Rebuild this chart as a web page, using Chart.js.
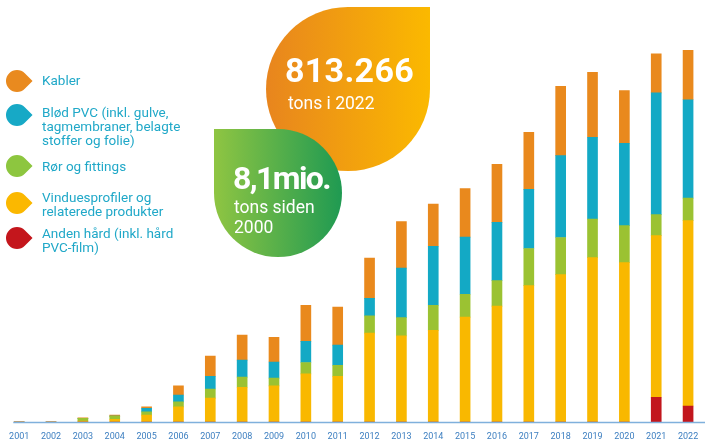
<!DOCTYPE html>
<html><head><meta charset="utf-8">
<script src="https://cdn.jsdelivr.net/npm/chart.js@4"></script>
<style>
html,body{margin:0;padding:0;background:#fff;}
#wrap{position:relative;width:710px;height:443px;overflow:hidden;font-family:Roboto,"Liberation Sans",sans-serif;}
#c{position:absolute;left:0;top:0;}
.bub{position:absolute;}
.bub .t{position:absolute;color:#fff;white-space:nowrap;}
.leg{position:absolute;left:0;top:0;}
.mk{position:absolute;width:22px;height:22px;border-radius:50% 0 50% 50%;transform:rotate(45deg);}
.lt{position:absolute;left:42px;color:#20a8c8;font-size:13.5px;line-height:14px;white-space:nowrap;}
</style></head>
<body><div id="wrap"><canvas id="c" width="710" height="443"></canvas>
<div class="bub" id="b1" style="left:266px;top:7px;width:164px;height:164px;border-radius:82px 0 82px 82px;background:linear-gradient(90deg,#e8851e,#fbb900);">
 <div class="t" style="left:19px;top:46px;font-size:34px;font-weight:700;line-height:34px;letter-spacing:0.3px;">813.266</div>
 <div class="t" style="left:22px;top:86px;font-size:17.5px;line-height:20px;">tons i 2022</div>
</div>
<div class="bub" id="b2" style="left:214px;top:129px;width:128px;height:128px;border-radius:0 64px 64px 64px;background:linear-gradient(90deg,#8fc542,#1f9a52);">
 <div class="t" style="left:19px;top:33px;font-size:32px;font-weight:700;line-height:32px;letter-spacing:-1.6px;">8,1mio.</div>
 <div class="t" style="left:20px;top:68px;font-size:17.5px;line-height:20px;">tons siden<br>2000</div>
</div>
<div class="leg" id="leg"></div>
</div>
<script>
const years = ['2001','2002','2003','2004','2005','2006','2007','2008','2009','2010','2011','2012','2013','2014','2015','2016','2017','2018','2019','2020','2021','2022'];
// values in thousand tons
const andenHaard = [0,0,0,0,0,0,0,0,0,0,0,0,0,0,0,0,0,0,0,0,54,35];
const vinduesprofiler = [0,0,2,6,15,33,52,76,79,105,100,194,188,200,229,253,298,322,359,348,353,405];
const roerFittings = [0,0,6,7,7,11,20,22,17,25,24,38,40,55,50,56,81,81,84,81,46,49];
const bloedPVC = [0,0,0,0,8,15,28,37,35,46,44,38,108,129,125,127,129,179,179,180,266,215];
const kabler = [0,0,1,2,3,20,44,55,54,79,83,88,102,92,106,127,125,151,142,115,85,108];

const seriesNames = ['Anden hård (inkl. hård PVC-film)','Vinduesprofiler og relaterede produkter','Rør og fittings','Blød PVC (inkl. gulve, tagmembraner, belagte stoffer og folie)','Kabler'];
const seriesColors = ['#c2161d','#f9b800','#9bc232','#13a9c5','#e9891d'];

const legendItems = [
  {lines:['Kabler'], color:'#e98a1f', top:73, mk:81},
  {lines:['Blød PVC (inkl. gulve,','tagmembraner, belagte','stoffer og folie)'], color:'#17a9c6', top:105, mk:115},
  {lines:['Rør og fittings'], color:'#8dc63f', top:159, mk:166},
  {lines:['Vinduesprofiler og','relaterede produkter'], color:'#fbb800', top:190, mk:203},
  {lines:['Anden hård (inkl. hård','PVC-film)'], color:'#c4161c', top:226, mk:238}
];
const leg = document.getElementById('leg');
legendItems.forEach(it=>{
  const m=document.createElement('div'); m.className='mk';
  m.style.left='6px'; m.style.top=(it.mk-11)+'px'; m.style.background=it.color;
  leg.appendChild(m);
  const t=document.createElement('div'); t.className='lt';
  t.style.top=it.top+'px'; t.innerHTML=it.lines.join('<br>');
  leg.appendChild(t);
});

const data = [andenHaard,vinduesprofiler,roerFittings,bloedPVC,kabler];
const baseLine = {id:'baseLine', afterDatasetsDraw(chart){
  const ctx=chart.ctx, y=chart.scales.y.getPixelForValue(0), a=chart.chartArea;
  ctx.save(); ctx.strokeStyle='#7fb0dc'; ctx.lineWidth=1.5;
  ctx.beginPath(); ctx.moveTo(a.left+10,y+0.5); ctx.lineTo(a.right+1,y+0.5); ctx.stroke(); ctx.restore();
}};
new Chart(document.getElementById('c'),{
  type:'bar',
  data:{labels:years, datasets:data.map((d,i)=>({label:seriesNames[i],data:d,backgroundColor:seriesColors[i],barThickness:10,borderWidth:0}))},
  options:{
    responsive:false, animation:false,
    layout:{padding:{left:3,right:6,top:10,bottom:2}},
    plugins:{legend:{display:false},tooltip:{enabled:false}},
    scales:{
      x:{stacked:true, grid:{display:false,drawTicks:false}, border:{display:false},
         afterFit(s){s.height=19;},
         ticks:{color:'#3d7fc0',font:{family:'Roboto',size:9},padding:9,maxRotation:0,autoSkip:false}},
      y:{stacked:true, display:false, min:0, max:900}
    }
  },
  plugins:[baseLine]
});
</script>
</body></html>
